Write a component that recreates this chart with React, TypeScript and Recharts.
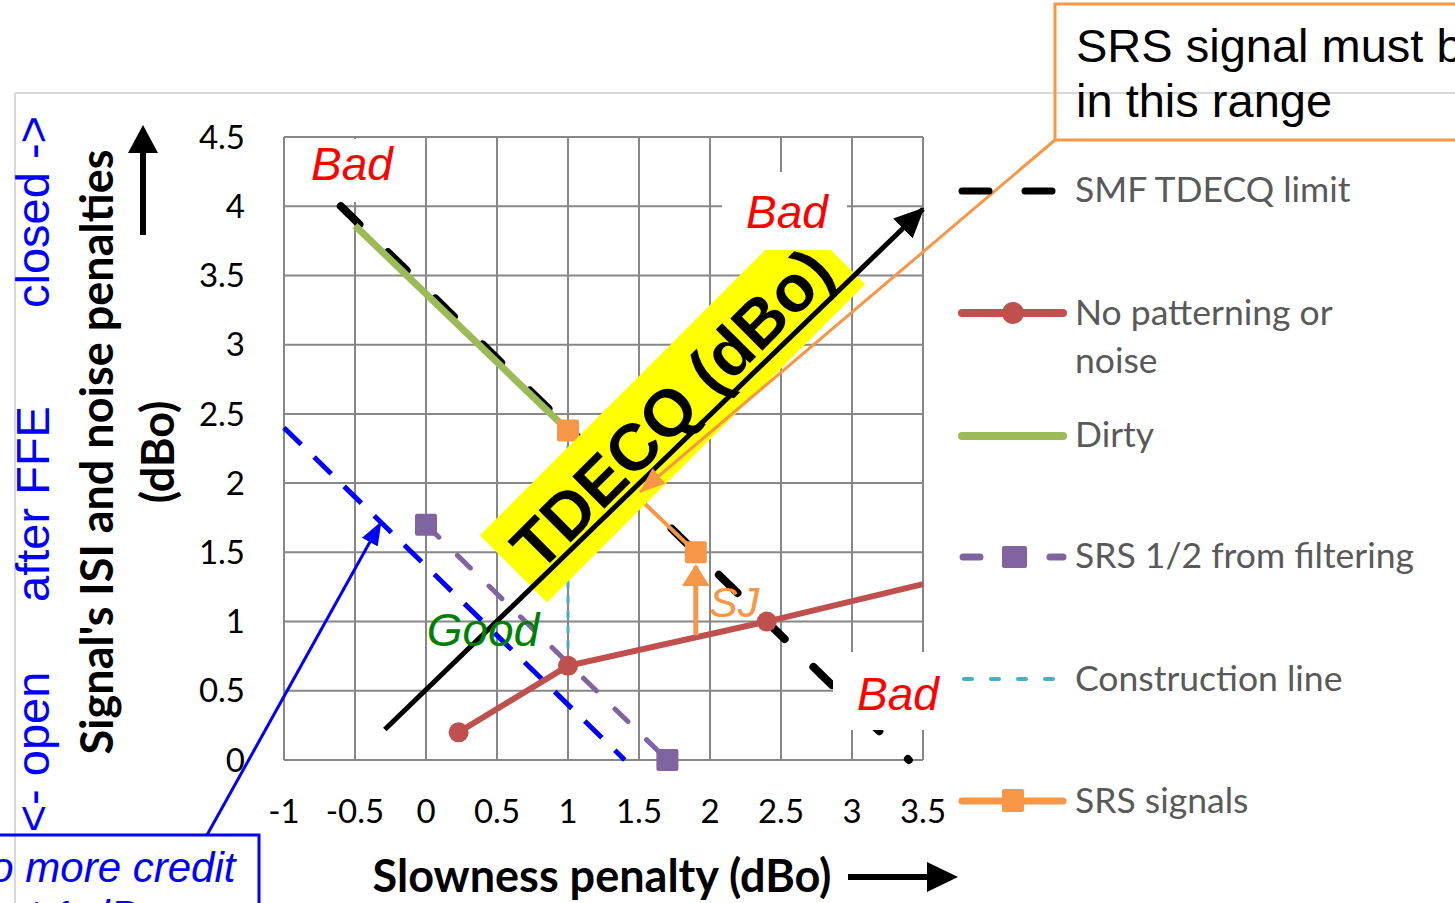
import React from "react";
import { LineChart, Line, XAxis, YAxis, CartesianGrid } from "recharts";

const xTicks = [-1, -0.5, 0, 0.5, 1, 1.5, 2, 2.5, 3, 3.5];
const yTicks = [0, 0.5, 1, 1.5, 2, 2.5, 3, 3.5, 4, 4.5];

const smfLimit = [
  { x: -0.6, y: 4.0 },
  { x: 3.4, y: 0 },
];
const noPatterning = [
  { x: 0.23, y: 0.2 },
  { x: 1, y: 0.68 },
  { x: 2.4, y: 1.0 },
  { x: 3.5, y: 1.27 },
];
const dirty = [
  { x: -0.5, y: 3.86 },
  { x: 1, y: 2.38 },
];
const srsHalf = [
  { x: 0, y: 1.7 },
  { x: 1.7, y: 0 },
];
const construction = [
  { x: 1, y: 2.38 },
  { x: 1, y: 0.68 },
];
const srsSignals = [
  { x: 1, y: 2.38 },
  { x: 1.9, y: 1.5 },
];
const noCredit = [
  { x: -1, y: 2.4 },
  { x: 1.4, y: 0 },
];
const sjArrow = [
  { x: 1.9, y: 0.9 },
  { x: 1.9, y: 1.4 },
];
const tdecqArrow = [
  { x: -0.29, y: 0.22 },
  { x: 3.5, y: 3.98 },
];

const W = 1455;
const H = 903;
const SANS = "'Liberation Sans', Arial, sans-serif";
const CAL = "Lato, 'Open Sans', sans-serif";

const RED = "#C0504D";
const GREEN = "#9BBB59";
const PURPLE = "#8064A2";
const CYAN = "#4BACC6";
const ORANGE = "#F79646";

const squareDot = (color: string, size: number) => (props: any) => {
  const { cx, cy, index } = props;
  return (
    <rect
      key={`sq-${color}-${index}`}
      x={cx - size / 2}
      y={cy - size / 2}
      width={size}
      height={size}
      rx={2}
      fill={color}
    />
  );
};

const redDot = (props: any) => {
  const { cx, cy, index } = props;
  if (index > 2) return <g key={`rd-${index}`} />;
  return <circle key={`rd-${index}`} cx={cx} cy={cy} r={10} fill={RED} />;
};

const layer: React.CSSProperties = { position: "absolute", left: 0, top: 0, width: W, height: H };

function Legend() {
  const tx = 1075;
  const text = (y: number, s: string) => (
    <text x={tx} y={y} fontFamily={CAL} fontSize={35.5} fill="#595959">
      {s}
    </text>
  );
  return (
    <g>
      <line x1={962} x2={1055} y1={191} y2={191} stroke="#000" strokeWidth={7} strokeLinecap="round" strokeDasharray="27 36" />
      {text(202, "SMF TDECQ limit")}

      <line x1={962} x2={1063} y1={313} y2={313} stroke={RED} strokeWidth={8} strokeLinecap="round" />
      <circle cx={1013} cy={313} r={11} fill={RED} />
      {text(325, "No patterning or")}
      {text(373, "noise")}

      <line x1={962} x2={1063} y1={436} y2={436} stroke={GREEN} strokeWidth={8} strokeLinecap="round" />
      {text(447, "Dirty")}

      <line x1={963} x2={980} y1={557} y2={557} stroke={PURPLE} strokeWidth={7} strokeLinecap="round" />
      <rect x={1002} y={546} width={25} height={22} rx={2} fill={PURPLE} />
      <line x1={1050} x2={1063} y1={557} y2={557} stroke={PURPLE} strokeWidth={7} strokeLinecap="round" />
      {text(568, "SRS 1/2 from filtering")}

      <line x1={964} x2={1056} y1={679} y2={679} stroke={CYAN} strokeWidth={4} strokeLinecap="round" strokeDasharray="8 19" />
      {text(691, "Construction line")}

      <line x1={962} x2={1063} y1={801} y2={801} stroke={ORANGE} strokeWidth={7} strokeLinecap="round" />
      <rect x={1002} y={789} width={22} height={23} rx={2} fill={ORANGE} />
      {text(813, "SRS signals")}
    </g>
  );
}

export default function App() {
  return (
    <div style={{ ...layer, background: "#fff", overflow: "hidden" }}>
      {/* chart frame */}
      <svg style={layer} width={W} height={H}>
        <line x1={15} y1={93} x2={W} y2={93} stroke="#D9D9D9" strokeWidth={2} />
        <line x1={15} y1={93} x2={15} y2={H} stroke="#D9D9D9" strokeWidth={2} />
      </svg>

      {/* main chart */}
      <div style={layer}>
        <LineChart width={W} height={H} margin={{ top: 137, right: 532, bottom: 83, left: 224 }}>
          <CartesianGrid stroke="#878787" strokeWidth={2} />
          <XAxis
            type="number"
            dataKey="x"
            domain={[-1, 3.5]}
            ticks={xTicks}
            height={60}
            axisLine={false}
            tickLine={false}
            tickSize={0}
            tickMargin={40}
            interval={0}
            tick={{ fontFamily: CAL, fontSize: 33, fill: "#000" }}
          />
          <YAxis
            type="number"
            dataKey="y"
            domain={[0, 4.5]}
            ticks={yTicks}
            width={60}
            axisLine={false}
            tickLine={false}
            tickSize={0}
            tickMargin={39}
            interval={0}
            tick={{ fontFamily: CAL, fontSize: 33, fill: "#000" }}
          />
          <Line data={construction} dataKey="y" stroke={CYAN} strokeWidth={3} strokeDasharray="8 7" dot={false} activeDot={false} isAnimationActive={false} />
          <Line data={noCredit} dataKey="y" stroke="#0000FF" strokeWidth={5} strokeDasharray="24 18" dot={false} activeDot={false} isAnimationActive={false} />
          <Line data={srsHalf} dataKey="y" stroke={PURPLE} strokeWidth={5} strokeLinecap="round" strokeDasharray="18 26" dot={squareDot(PURPLE, 22)} activeDot={false} isAnimationActive={false} />
          <Line data={smfLimit} dataKey="y" stroke="#000" strokeWidth={8} strokeLinecap="round" strokeDasharray="26 40" dot={false} activeDot={false} isAnimationActive={false} />
          <Line data={dirty} dataKey="y" stroke={GREEN} strokeWidth={7} dot={false} activeDot={false} isAnimationActive={false} />
          <Line data={srsSignals} dataKey="y" stroke={ORANGE} strokeWidth={4} dot={squareDot(ORANGE, 22)} activeDot={false} isAnimationActive={false} />
          <Line data={noPatterning} dataKey="y" stroke={RED} strokeWidth={6} dot={redDot} activeDot={false} isAnimationActive={false} />
          <Line data={sjArrow} dataKey="y" stroke={ORANGE} strokeWidth={5} markerEnd="url(#arrowOrangeSJ)" dot={false} activeDot={false} isAnimationActive={false} />
        </LineChart>
      </div>

      {/* yellow TDECQ label */}
      <svg style={layer} width={W} height={H}>
        <rect x={672.5 - 225} y={409.75 - 47.5} width={450} height={95} fill="#FFFF00" transform="rotate(-45 672.5 409.75)" />
        <text
          x={688}
          y={425}
          transform="rotate(-45 688 425)"
          textAnchor="middle"
          fontFamily={SANS}
          fontWeight="bold"
          fontSize={66}
          fill="#000"
        >
          TDECQ (dBo)
        </text>
      </svg>

      {/* TDECQ direction arrow */}
      <div style={layer}>
        <LineChart width={W} height={H} margin={{ top: 137, right: 532, bottom: 143, left: 284 }}>
          <XAxis type="number" dataKey="x" domain={[-1, 3.5]} hide />
          <YAxis type="number" dataKey="y" domain={[0, 4.5]} hide />
          <Line data={tdecqArrow} dataKey="y" stroke="#000" strokeWidth={5} markerEnd="url(#arrowBlack)" dot={false} activeDot={false} isAnimationActive={false} />
        </LineChart>
      </div>

      {/* annotations */}
      <svg style={layer} width={W} height={H}>
        <defs>
          <marker id="arrowBlack" markerUnits="userSpaceOnUse" viewBox="0 0 30 28" refX={28} refY={14} markerWidth={30} markerHeight={28} orient="auto">
            <path d="M0,0 L30,14 L0,28 z" fill="#000" />
          </marker>
          <marker id="arrowOrangeSJ" markerUnits="userSpaceOnUse" viewBox="0 0 22 28" refX={20} refY={14} markerWidth={22} markerHeight={28} orient="auto">
            <path d="M0,0 L22,14 L0,28 z" fill={ORANGE} />
          </marker>
          <marker id="arrowOrange" markerUnits="userSpaceOnUse" viewBox="0 0 26 20" refX={25} refY={10} markerWidth={26} markerHeight={20} orient="auto">
            <path d="M0,0 L26,10 L0,20 z" fill={ORANGE} />
          </marker>
          <marker id="arrowBlue" markerUnits="userSpaceOnUse" viewBox="0 0 24 18" refX={23} refY={9} markerWidth={24} markerHeight={18} orient="auto">
            <path d="M0,0 L24,9 L0,18 z" fill="#0000FF" />
          </marker>
        </defs>

        {/* Bad / Good labels */}
        <rect x={286} y={139} width={127} height={63} fill="#fff" />
        <text x={352} y={180} textAnchor="middle" fontFamily={SANS} fontStyle="italic" fontSize={46} fill="#FF0000">Bad</text>
        <rect x={722} y={172} width={125} height={78} fill="#fff" />
        <text x={787} y={228} textAnchor="middle" fontFamily={SANS} fontStyle="italic" fontSize={46} fill="#FF0000">Bad</text>
        <rect x={833} y={652} width={125} height={78} fill="#fff" />
        <text x={898} y={710} textAnchor="middle" fontFamily={SANS} fontStyle="italic" fontSize={46} fill="#FF0000">Bad</text>
        <text x={483} y={646} textAnchor="middle" fontFamily={SANS} fontStyle="italic" fontSize={46} fill="#008000">Good</text>
        <text x={709} y={617} fontFamily={SANS} fontStyle="italic" fontSize={43} fill={ORANGE}>SJ</text>

        {/* SRS range callout */}
        <rect x={1055} y={4} width={430} height={136} fill="none" stroke={ORANGE} strokeWidth={3} />
        <text x={1076} y={62} fontFamily={SANS} fontSize={47} fill="#000">SRS signal must be</text>
        <text x={1076} y={117} fontFamily={SANS} fontSize={47} fill="#000">in this range</text>
        <line x1={1055} y1={140} x2={640} y2={492} stroke={ORANGE} strokeWidth={3} markerEnd="url(#arrowOrange)" />

        {/* no more credit callout */}
        <rect x={-10} y={835} width={269} height={110} fill="none" stroke="#0000FF" strokeWidth={3} />
        <text x={-40} y={882} fontFamily={SANS} fontStyle="italic" fontSize={42} fill="#0000FF">No more credit</text>
        <text x={-40} y={930} fontFamily={SANS} fontStyle="italic" fontSize={42} fill="#0000FF">past 1 dB</text>
        <line x1={207} y1={835} x2={381} y2={522} stroke="#0000FF" strokeWidth={3} markerEnd="url(#arrowBlue)" />

        {/* left side annotation */}
        <text x={49} y={752} transform="rotate(-90 49 752)" textAnchor="middle" fontFamily={SANS} fontSize={47} fill="#0000FF">{"<- open"}</text>
        <text x={49} y={504} transform="rotate(-90 49 504)" textAnchor="middle" fontFamily={SANS} fontSize={47} fill="#0000FF">after FFE</text>
        <text x={49} y={212} transform="rotate(-90 49 212)" textAnchor="middle" fontFamily={SANS} fontSize={47} fill="#0000FF">{"closed ->"}</text>

        {/* y axis title */}
        <text x={113} y={452} transform="rotate(-90 113 452)" textAnchor="middle" fontFamily={CAL} fontWeight="bold" fontSize={45} fill="#000">Signal's ISI and noise penalties</text>
        <text x={174} y={452} transform="rotate(-90 174 452)" textAnchor="middle" fontFamily={CAL} fontWeight="bold" fontSize={45} fill="#000">(dBo)</text>
        <line x1={143} y1={235} x2={143} y2={150} stroke="#000" strokeWidth={6} />
        <polygon points="128,153 143,125 158,153" fill="#000" />

        {/* x axis title */}
        <text x={602} y={892} textAnchor="middle" fontFamily={CAL} fontWeight="bold" fontSize={45} fill="#000">Slowness penalty (dBo)</text>
        <line x1={848} y1={877} x2={930} y2={877} stroke="#000" strokeWidth={6} />
        <polygon points="927,862 958,877 927,892" fill="#000" />

        <Legend />
      </svg>
    </div>
  );
}
